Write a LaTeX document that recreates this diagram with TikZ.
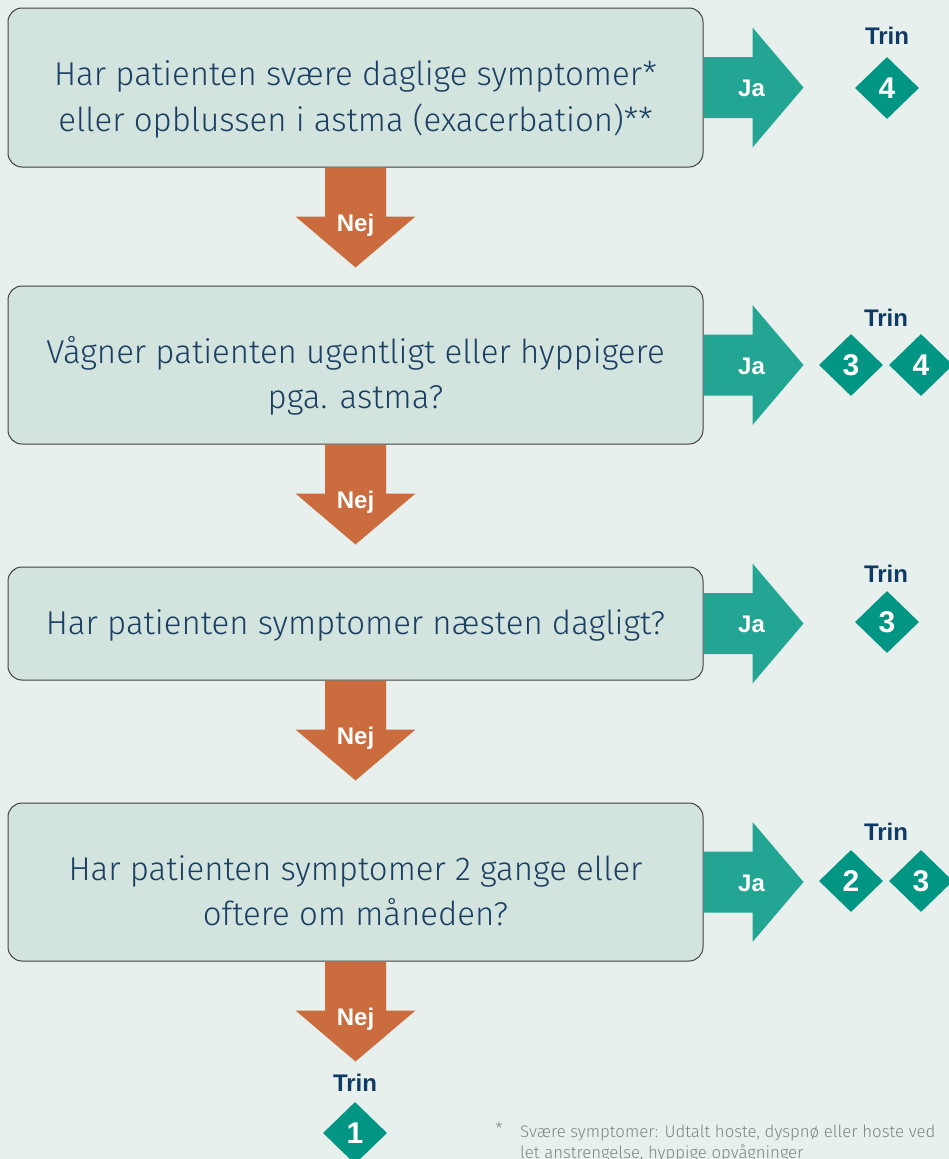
\documentclass[tikz,border=0pt]{standalone}
\usepackage{fontspec}
\setmainfont{Fira Sans Light}
\newfontfamily\labfont{Liberation Sans}
\usetikzlibrary{shapes.geometric}
\definecolor{bg}{HTML}{E7F0ED}
\definecolor{boxfill}{HTML}{D3E4DF}
\definecolor{boxtext}{HTML}{1A3F63}
\definecolor{nejc}{HTML}{CB6C3E}
\definecolor{jac}{HTML}{23A594}
\definecolor{diac}{HTML}{009683}
\definecolor{trinc}{HTML}{0E3A63}
\definecolor{notec}{HTML}{7E8583}
\begin{document}
\begin{tikzpicture}[x=1pt,y=-1pt,
  qbox/.style={draw=black!75, line width=1pt, fill=boxfill, rounded corners=14pt,
    minimum width=695pt, inner sep=0pt},
  qtext/.style={anchor=base, inner sep=0pt, text=boxtext,
    font=\fontsize{33}{45}\selectfont},
  nejlab/.style={text=white, font=\labfont\bfseries\fontsize{24}{24}\selectfont},
  jalab/.style={text=white, font=\labfont\bfseries\fontsize{24}{24}\selectfont},
  trin/.style={text=trinc, font=\labfont\bfseries\fontsize{24}{24}\selectfont},
  dia/.style={diamond, fill=diac, inner sep=0pt, minimum width=64pt, minimum height=62pt,
    text=white, font=\labfont\bfseries\fontsize{30}{30}\selectfont},
  note/.style={text=notec, font=\fontsize{16.8}{23}\selectfont, inner sep=0pt}
]
\clip (0,0) rectangle (949,1159);
\fill[bg] (0,0) rectangle (949,1159);

% question boxes
\node[qbox, minimum height=159pt] (q1) at (355.5,87.5) {};
\node[qbox, minimum height=158pt] (q2) at (355.5,365) {};
\node[qbox, minimum height=113pt] (q3) at (355.5,623.5) {};
\node[qbox, minimum height=158pt] (q4) at (355.5,882) {};

% question texts (baselines)
\node[qtext] (q1a) at ([yshift=1.8pt]q1.center) {Har patienten svære daglige symptomer*};
\node[qtext] (q1b) at ([yshift=-43.5pt]q1.center) {eller opblussen i astma (exacerbation)**};
\node[qtext] (q2a) at ([yshift=1.8pt]q2.center) {Vågner patienten ugentligt eller hyppigere};
\node[qtext] (q2b) at ([yshift=-43.5pt]q2.center) {pga. astma?};
\node[qtext] (q3a) at ([yshift=-10.8pt]q3.center) {Har patienten symptomer næsten dagligt?};
\node[qtext] (q4a) at ([yshift=1.8pt]q4.center) {Har patienten symptomer 2 gange eller};
\node[qtext] (q4b) at ([yshift=-43.5pt]q4.center) {oftere om måneden?};

% Nej arrows
\foreach \q/\n in {q1/n1, q2/n2, q3/n3, q4/n4}{
  \begin{scope}[shift={(\q.south)}]
    \fill[nejc] (-30.5,0) -- (-30.5,49) -- (-60,49) -- (0,100) -- (60,49) -- (30.5,49) -- (30.5,0) -- cycle;
    \node[nejlab] (\n) at (0,58) {Nej};
  \end{scope}
}

% Ja arrows
\foreach \q/\j in {q1/j1, q2/j2, q3/j3, q4/j4}{
  \begin{scope}[shift={(\q.east)}]
    \fill[jac] (0,-30.5) -- (49,-30.5) -- (49,-60) -- (100,0) -- (49,60) -- (49,30.5) -- (0,30.5) -- cycle;
    \node[jalab] (\j) at (48,1) {Ja};
  \end{scope}
}

% Trin labels and diamonds
\node[trin] (t1) at (887,36) {Trin};
\node[dia] (d1) at (887,88) {4};

\node[trin] (t2) at (886,318) {Trin};
\node[dia] (d2a) at (851,365) {3};
\node[dia] (d2b) at (921,365) {4};

\node[trin] (t3) at (886,574) {Trin};
\node[dia] (d3) at (887,622) {3};

\node[trin] (t4) at (886,832) {Trin};
\node[dia] (d4a) at (851,881) {2};
\node[dia] (d4b) at (921,881) {3};

\node[trin] (t5) at (355,1083) {Trin};
\node[dia] (d5) at (355,1133) {1};

% footnote
\node[note] (fs) at (499,1128) {*};
\node[note, anchor=base west] (fn1) at (520,1137)
  {Svære symptomer: Udtalt hoste, dyspnø eller hoste ved};
\node[note, anchor=base west] (fn2) at (520,1158)
  {let anstrengelse, hyppige opvågninger};
\end{tikzpicture}
\end{document}
